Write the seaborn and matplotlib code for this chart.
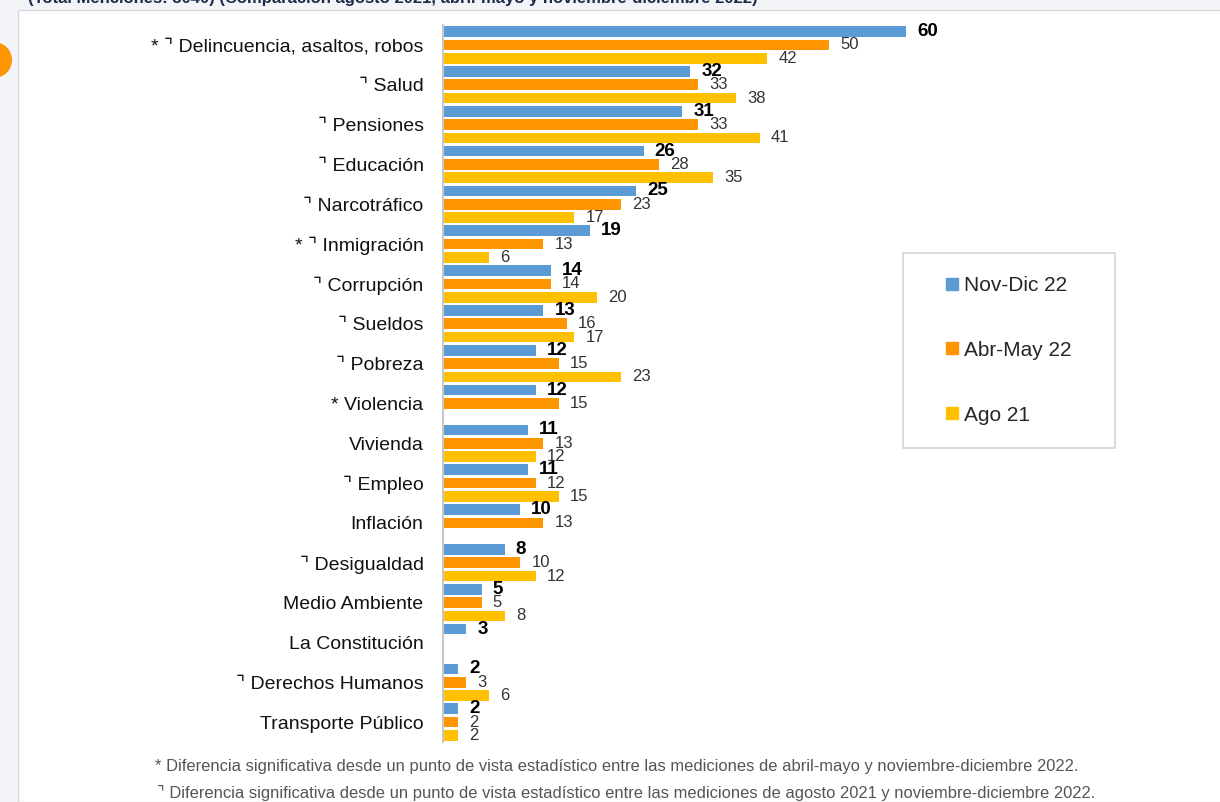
import numpy as np
import pandas as pd
import matplotlib
matplotlib.use("Agg")
import matplotlib.pyplot as plt
import matplotlib.patches as mpatches
from matplotlib.lines import Line2D
import seaborn as sns

# data
categories = ["Delincuencia, asaltos, robos", "Salud", "Pensiones", "Educación", "Narcotráfico",
              "Inmigración", "Corrupción", "Sueldos", "Pobreza", "Violencia", "Vivienda", "Empleo",
              "Inflación", "Desigualdad", "Medio Ambiente", "La Constitución", "Derechos Humanos",
              "Transporte Público"]
star_marks = [1, 0, 0, 0, 0, 1, 0, 0, 0, 1, 0, 0, 0, 0, 0, 0, 0, 0]
corner_marks = [1, 1, 1, 1, 1, 1, 1, 1, 1, 0, 0, 1, 0, 1, 0, 0, 1, 0]
series = ["Nov-Dic 22", "Abr-May 22", "Ago 21"]
nov_dic_22 = [60, 32, 31, 26, 25, 19, 14, 13, 12, 12, 11, 11, 10, 8, 5, 3, 2, 2]
abr_may_22 = [50, 33, 33, 28, 23, 13, 14, 16, 15, 15, 13, 12, 13, 10, 5, np.nan, 3, 2]
ago_21 = [42, 38, 41, 35, 17, 6, 20, 17, 23, np.nan, 12, 15, np.nan, 12, 8, np.nan, 6, 2]
colors = ["#5b9bd5", "#ff9500", "#ffc000"]

title_text = "(Total Menciones: 3040) (Comparación agosto 2021, abril-mayo y noviembre-diciembre 2022)"
note1 = "* Diferencia significativa desde un punto de vista estadístico entre las mediciones de abril-mayo y noviembre-diciembre 2022."
note2 = "⌝ Diferencia significativa desde un punto de vista estadístico entre las mediciones de agosto 2021 y noviembre-diciembre 2022."

df = pd.DataFrame({"Tema": categories, series[0]: nov_dic_22, series[1]: abr_may_22, series[2]: ago_21})
long = df.melt(id_vars="Tema", var_name="Periodo", value_name="Pct").dropna()

sns.set_style("white")
plt.rcParams["font.family"] = ["Liberation Sans", "DejaVu Sans"]

W, H = 1220, 802
fig = plt.figure(figsize=(W / 100, H / 100), dpi=100)
fig.patch.set_facecolor("#f3f4f8")

# white page panel behind the chart
fig.patches.append(mpatches.Rectangle((18 / W, 0), 1, 1 - 10 / H, transform=fig.transFigure,
                                      facecolor="white", edgecolor="#d6d7dc", lw=1.0, zorder=-5))
fig.patches.append(mpatches.Ellipse((-6 / W, 1 - 60 / H), 36 / W, 36 / H, transform=fig.transFigure,
                                    facecolor="#ff9500", edgecolor="none", zorder=-4))
fig.text(28 / W, 1 + 1 / H, title_text, fontsize=12, fontweight="bold", color="#1e2a4a",
         ha="left", va="center")

x0, x1 = 443, 1115
y0, y1 = 25, 742
ax = fig.add_axes([x0 / W, 1 - y1 / H, (x1 - x0) / W, (y1 - y0) / H])
ax.set_facecolor("none")

sns.barplot(data=long, y="Tema", x="Pct", hue="Periodo", order=categories, hue_order=series,
            palette=colors, saturation=1, orient="h", width=1.0, gap=0.2, errorbar=None,
            legend=False, linewidth=0, ax=ax)

ax.set_xlim(0, (x1 - x0) / 7.72)
ax.set_ylim(len(categories) - 0.5, -0.5)
ax.set_xlabel("")
ax.set_ylabel("")
ax.set_xticks([])

labels = []
for c, s, k in zip(categories, star_marks, corner_marks):
    pre = ("* " if s else "") + ("⌝ " if k else "")
    labels.append(pre + c)
ax.set_yticks(range(len(categories)))
ax.set_yticklabels(labels, fontsize=14, color="#111111")
ax.tick_params(axis="y", which="major", length=0, pad=14)
ax.set_yticks(np.arange(-0.5, len(categories), 1.0), minor=True)
ax.tick_params(axis="y", which="minor", length=5, width=1.2, color="#c0c0c0", direction="out")

for side in ["top", "right", "bottom"]:
    ax.spines[side].set_visible(False)
ax.spines["left"].set_color("#c8c8c8")
ax.spines["left"].set_linewidth(1.5)

for i, cont in enumerate(ax.containers):
    if i == 0:
        ax.bar_label(cont, fmt="%d", padding=8, fontsize=13.5, fontweight="bold", color="#000000")
    else:
        ax.bar_label(cont, fmt="%d", padding=8, fontsize=12, color="#333333")

handles = [Line2D([0], [0], marker="s", linestyle="none", markersize=9, markerfacecolor=c,
                  markeredgecolor=c) for c in colors]
leg = fig.legend(handles, series, loc="upper left",
                 bbox_to_anchor=(903 / W, 1 - 253 / H, 212 / W, 0.0), mode="expand",
                 fontsize=15, frameon=True, fancybox=False, borderpad=1.1,
                 labelspacing=2.2, handlelength=2.5, handletextpad=-0.65, borderaxespad=0)
leg.get_frame().set_edgecolor("#c8c8c8")
leg.get_frame().set_linewidth(1.2)

fig.text(155 / W, 1 - 767 / H, note1, fontsize=11.9, color="#555555", ha="left", va="center")
fig.text(157 / W, 1 - 793 / H, note2, fontsize=11.9, color="#555555", ha="left", va="center")

fig.savefig("out.png", dpi=100)
